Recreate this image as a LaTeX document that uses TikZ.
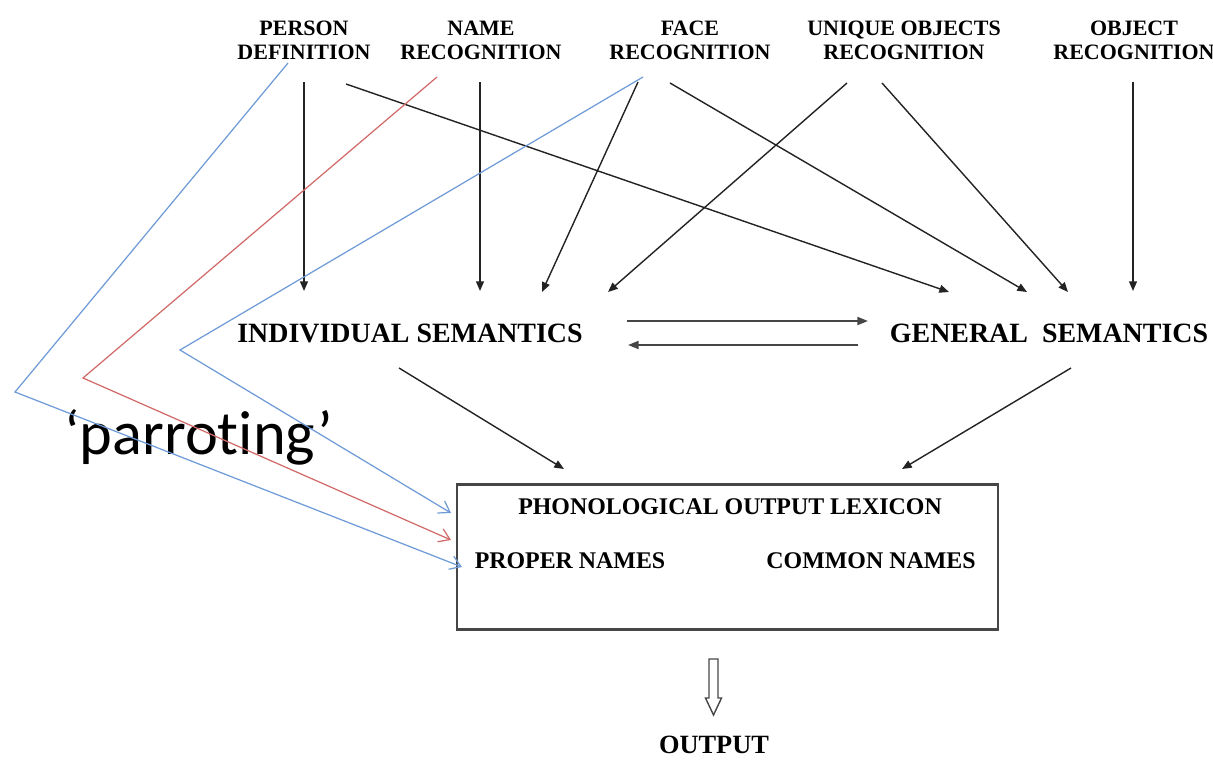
\documentclass[tikz,border=0pt]{standalone}
\usepackage{fontspec}
\setmainfont{Liberation Serif}
\newfontfamily\parrotfont[Ligatures=NoCommon]{Carlito}
\usetikzlibrary{arrows.meta}
\definecolor{lnblue}{RGB}{110,155,215}
\definecolor{lnred}{RGB}{210,105,105}
\definecolor{lnblack}{RGB}{35,35,35}
\definecolor{lngray}{RGB}{70,70,70}
\begin{document}
\begin{tikzpicture}[x=0.02cm,y=-0.02cm,
  lbl/.style={font=\fontsize{12.5}{13.6}\selectfont\bfseries, align=center, inner sep=0},
  sem/.style={font=\fontsize{15.9}{18}\selectfont\bfseries, inner sep=0},
  boxtxt/.style={font=\fontsize{13.6}{15}\selectfont\bfseries, inner sep=0},
  arr/.style={draw=lnblack, line width=0.8pt, -{Triangle[length=5.5pt,width=4.5pt]}},
  biarr/.style={draw=lngray, line width=1.1pt, -{Triangle[length=6pt,width=4.5pt]}},
  parr/.style={line width=0.7pt, -{Straight Barb[length=6pt,width=8pt]}},
  lexbox/.style={draw=lngray, line width=1.2pt, minimum width=10.82cm, minimum height=2.9cm, inner sep=0},
]
\useasboundingbox (0,0) rectangle (1213,760);

% top labels
\node[lbl] (pd)  at (304,40)  {PERSON\\DEFINITION};
\node[lbl] (nr)  at (481,40)  {NAME\\RECOGNITION};
\node[lbl] (fr)  at (690,40)  {FACE\\RECOGNITION};
\node[lbl] (uor) at (904,40)  {UNIQUE OBJECTS\\RECOGNITION};
\node[lbl] (or)  at (1134,40) {OBJECT\\RECOGNITION};

% semantics
\node[sem] (is) at (410,333) {INDIVIDUAL SEMANTICS};
\node[sem] (gs) at (1049,333) {GENERAL\ \ SEMANTICS};

% lexicon box
\node[lexbox] (lex) at (727.5,557) {};
\node[boxtxt] (pol) at (730,507) {PHONOLOGICAL OUTPUT LEXICON};
\node[boxtxt] (pn)  at (570,561) {PROPER NAMES};
\node[boxtxt] (cn)  at (871,561) {COMMON NAMES};

% output
\node[font=\fontsize{15}{18}\selectfont\bfseries, inner sep=0] (out) at (714,745) {OUTPUT};

% parroting
\node[font=\fontsize{35.5}{40}\selectfont\parrotfont, anchor=base west, inner sep=0] (par) at (64,454) {‘parroting’};

% connector end points
\coordinate (pd-a) at (304,82);   \coordinate (is-a) at (304,291);
\coordinate (pd-b) at (346,84);   \coordinate (gs-b) at (949,292);
\coordinate (nr-a) at (480,82);   \coordinate (is-b) at (480,291);
\coordinate (fr-a) at (638,82);   \coordinate (is-c) at (542,292);
\coordinate (fr-b) at (670,83);   \coordinate (gs-c) at (1027,292);
\coordinate (uor-a) at (847,83);  \coordinate (is-d) at (608,292);
\coordinate (uor-b) at (882,83);  \coordinate (gs-d) at (1068,292);
\coordinate (or-a) at (1133,82);  \coordinate (gs-e) at (1133,291);
\coordinate (is-r) at (627,321);  \coordinate (gs-l) at (868,321);
\coordinate (gs-l2) at (858,345); \coordinate (is-r2) at (628,345);
\coordinate (is-o) at (399,368);  \coordinate (lex-a) at (564,469);
\coordinate (gs-o) at (1071,368); \coordinate (lex-b) at (902,469);

% black connectors
\draw[arr] (pd-a) -- (is-a);
\draw[arr] (pd-b) -- (gs-b);
\draw[arr] (nr-a) -- (is-b);
\draw[arr] (fr-a) -- (is-c);
\draw[arr] (fr-b) -- (gs-c);
\draw[arr] (uor-a) -- (is-d);
\draw[arr] (uor-b) -- (gs-d);
\draw[arr] (or-a) -- (gs-e);
\draw[biarr] (is-r) -- (gs-l);
\draw[biarr] (gs-l2) -- (is-r2);
\draw[arr] (is-o) -- (lex-a);
\draw[arr] (gs-o) -- (lex-b);

% parroting routes
\coordinate (pd-p) at (288,63);  \coordinate (c1) at (15,392);  \coordinate (pn-1) at (462,567);
\coordinate (nr-p) at (437,77);  \coordinate (c2) at (83,378);  \coordinate (pn-2) at (451,540);
\coordinate (fr-p) at (643,77);  \coordinate (c3) at (180,350); \coordinate (pol-3) at (451,513);
\draw[parr, lnblue] (pd-p) -- (c1) -- (pn-1);
\draw[parr, lnred]  (nr-p) -- (c2) -- (pn-2);
\draw[parr, lnblue] (fr-p) -- (c3) -- (pol-3);

% output hollow arrow
\draw[lngray, line width=0.8pt, line join=miter]
  (709,659) -- (718,659) -- (718,698) -- (721.5,698) -- (713.5,715) -- (705.5,698) -- (709,698) -- cycle;
\end{tikzpicture}
\end{document}
